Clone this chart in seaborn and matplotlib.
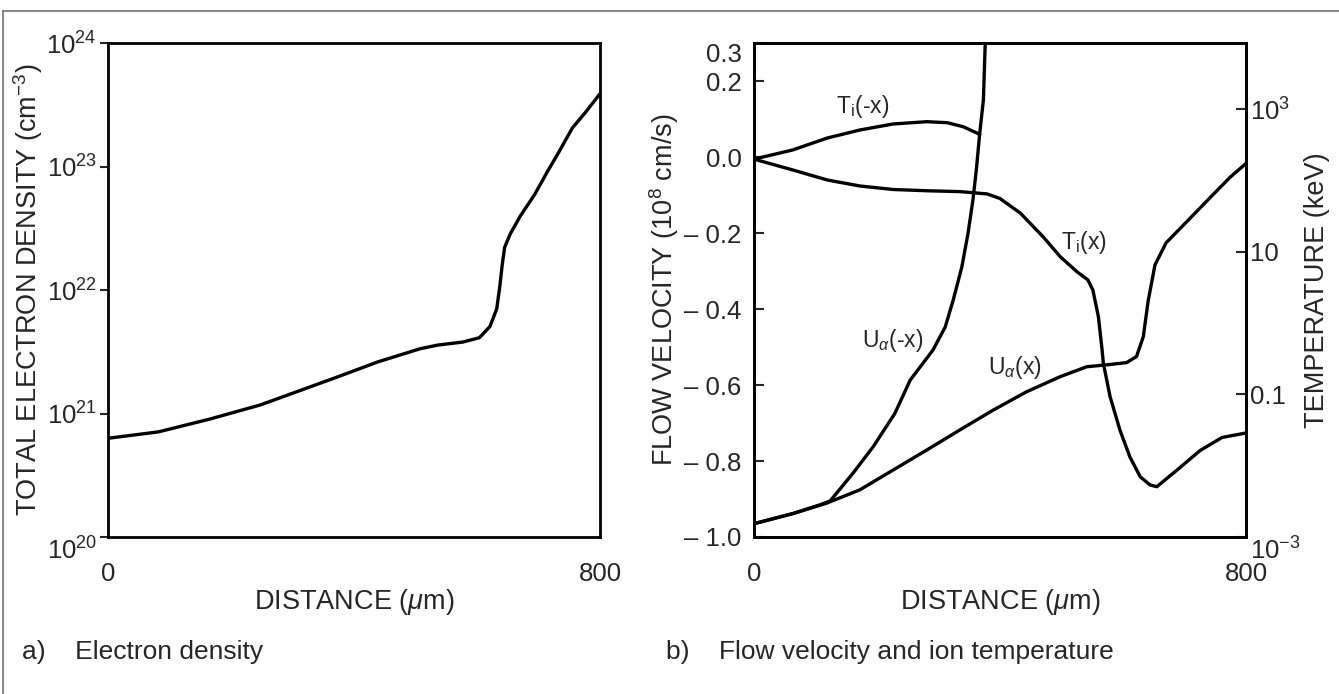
import seaborn as sns
import matplotlib.pyplot as plt
import pandas as pd
import numpy as np
from matplotlib.lines import Line2D

# (a) electron density vs distance
dist_a = [0, 82, 165, 247, 302, 371, 439, 508, 536, 577, 604, 621, 632, 637, 641,
          645, 654, 670, 694, 714, 735, 755, 776, 800]
density = [6.3e20, 7.1e20, 9.0e20, 1.17e21, 1.47e21, 1.96e21, 2.62e21, 3.35e21, 3.58e21,
           3.79e21, 4.11e21, 5.06e21, 7.02e21, 1.06e22, 1.60e22, 2.22e22, 2.84e22, 3.94e22,
           5.96e22, 9.0e22, 1.36e23, 2.05e23, 2.73e23, 3.88e23]

# (b) flow velocity (1e8 cm/s)
dist_u_pos = [0, 64, 118, 172, 226, 281, 335, 389, 443, 498, 541, 579, 606, 622, 633,
              641, 652, 670, 705, 747, 775, 800]
u_pos = [-0.965, -0.938, -0.911, -0.876, -0.824, -0.771, -0.718, -0.666, -0.618, -0.578,
         -0.552, -0.546, -0.541, -0.525, -0.473, -0.378, -0.284, -0.226, -0.168, -0.098,
         -0.052, -0.017]
dist_u_neg = [0, 64, 108, 124, 161, 194, 229, 254, 291, 311, 324, 338, 348, 356, 362,
              367, 373, 376]
u_neg = [-0.965, -0.938, -0.915, -0.905, -0.832, -0.762, -0.675, -0.587, -0.508, -0.447,
         -0.376, -0.289, -0.201, -0.113, -0.026, 0.062, 0.150, 0.300]

# (b) ion temperature (keV)
dist_t_pos = [0, 63, 119, 172, 226, 281, 335, 379, 400, 433, 470, 498, 525, 543, 551,
              560, 566, 568, 579, 595, 611, 628, 644, 655, 691, 725, 761, 800]
t_pos = [200, 141, 102, 84, 75, 72, 70, 65, 56, 35, 16.3, 8.55, 5.27, 4.03, 2.92,
         1.23, 0.42, 0.276, 0.093, 0.0317, 0.0134, 0.0070, 0.00537, 0.00508, 0.00916,
         0.01626, 0.0249, 0.0288]
dist_t_neg = [0, 63, 119, 172, 226, 281, 314, 340, 367]
t_neg = [200, 269, 395, 512, 622, 670, 649, 570, 446]

vel_ticks = [0.3, 0.2, 0.0, -0.2, -0.4, -0.6, -0.8, -1.0]
vel_labels = ['0.3', '0.2', '0.0', '\u2013 0.2', '\u2013 0.4', '\u2013 0.6', '\u2013 0.8', '\u2013 1.0']
temp_ticks = [1e-3, 0.1, 10, 1e3]
temp_labels = ['10$^{-3}$', '0.1', '10', '10$^{3}$']

sns.set_style('ticks')
plt.rcParams['font.family'] = ['Liberation Sans', 'DejaVu Sans']
plt.rcParams['mathtext.fontset'] = 'custom'
plt.rcParams['mathtext.rm'] = 'Liberation Sans'
plt.rcParams['mathtext.it'] = 'Liberation Sans:italic'
plt.rcParams['mathtext.default'] = 'regular'

fig = plt.figure(figsize=(13.39, 6.94), dpi=100)
ax_a = fig.add_axes([108 / 1339, 1 - 537 / 694, 492 / 1339, 494 / 694])
ax_b = fig.add_axes([754 / 1339, 1 - 537 / 694, 492 / 1339, 494 / 694])
ax_t = ax_b.twinx()

lw = 2.4
tick_fs = 18.5
label_fs = 19.5

# panel a
sns.lineplot(x=dist_a, y=density, ax=ax_a, color='black', lw=lw, sort=False)
ax_a.set_yscale('log')
ax_a.set_ylim(1e20, 1e24)
ax_a.set_xlim(0, 800)
ax_a.set_yticks([1e20, 1e21, 1e22, 1e23, 1e24])
ax_a.set_yticklabels(['10$^{20}$', '10$^{21}$', '10$^{22}$', '10$^{23}$', '10$^{24}$'])
ax_a.minorticks_off()
ax_a.set_xticks([0, 800])
ax_a.set_xticklabels(['0', '800'])
ax_a.tick_params(axis='y', direction='out', length=6, width=1.5, labelsize=tick_fs, pad=2)
ax_a.tick_params(axis='x', length=0, labelsize=tick_fs, pad=18)
ax_a.set_xlabel('DISTANCE ($\\mathit{\\mu}$m)', fontsize=label_fs, labelpad=1)
ax_a.set_ylabel('TOTAL ELECTRON DENSITY (cm$^{-3}$)', fontsize=label_fs, labelpad=1)
ax_a.get_yticklabels()[0].set_va('top')

# panel b, velocity
sns.lineplot(x=dist_u_pos, y=u_pos, ax=ax_b, color='black', lw=lw, sort=False)
sns.lineplot(x=dist_u_neg, y=u_neg, ax=ax_b, color='black', lw=lw, sort=False)
ax_b.set_xlim(0, 800)
ax_b.set_ylim(-1.0, 0.3)
ax_b.set_yticks(vel_ticks)
ax_b.set_yticklabels(vel_labels)
ax_b.set_xticks([0, 800])
ax_b.set_xticklabels(['0', '800'])
ax_b.tick_params(axis='y', direction='in', length=7, width=1.5, labelsize=tick_fs, pad=9)
ax_b.tick_params(axis='x', length=0, labelsize=tick_fs, pad=18)
ax_b.set_xlabel('DISTANCE ($\\mathit{\\mu}$m)', fontsize=label_fs, labelpad=1)
ax_b.set_ylabel('FLOW VELOCITY (10$^{8}$ cm/s)', fontsize=label_fs, labelpad=2)
ax_b.get_yticklabels()[0].set_va('top')

# panel b, temperature
sns.lineplot(x=dist_t_pos, y=t_pos, ax=ax_t, color='black', lw=lw, sort=False)
sns.lineplot(x=dist_t_neg, y=t_neg, ax=ax_t, color='black', lw=lw, sort=False)
ax_t.set_yscale('log')
ax_t.set_ylim(1e-3, 10 ** 3.93)
ax_t.set_yticks(temp_ticks)
ax_t.set_yticklabels(temp_labels)
ax_t.minorticks_off()
ax_t.tick_params(axis='y', direction='in', length=7, width=1.5, labelsize=tick_fs, pad=3)
ax_t.set_ylabel('TEMPERATURE (keV)', fontsize=label_fs, labelpad=2)
ax_t.get_yticklabels()[0].set_va('top')

# curve labels
curve_fs = 16.5
ax_b.text(177, 0.134, 'T$_{i}$(-x)', fontsize=curve_fs, ha='center', va='center')
ax_b.text(537, -0.226, 'T$_{i}$(x)', fontsize=curve_fs, ha='center', va='center')
ax_b.text(226, -0.482, 'U$_{\\mathit{\\alpha}}$(-x)', fontsize=curve_fs, ha='center', va='center')
ax_b.text(424, -0.553, 'U$_{\\mathit{\\alpha}}$(x)', fontsize=curve_fs, ha='center', va='center')

for ax in (ax_a, ax_b, ax_t):
    for s in ax.spines.values():
        s.set_linewidth(2.0)
        s.set_color('black')
        s.set_visible(True)

# captions
fig.text(22 / 1339, 1 - 652 / 694, 'a)    Electron density', fontsize=19, va='center')
fig.text(666 / 1339, 1 - 652 / 694, 'b)    Flow velocity and ion temperature', fontsize=19, va='center')

# outer frame lines
fig.add_artist(Line2D([3 / 1339, 1], [1 - 11 / 694, 1 - 11 / 694], color='0.45', lw=1.2,
                      transform=fig.transFigure))
fig.add_artist(Line2D([3 / 1339, 3 / 1339], [0, 1 - 11 / 694], color='0.45', lw=1.2,
                      transform=fig.transFigure))

fig.savefig('out.png', dpi=100)
